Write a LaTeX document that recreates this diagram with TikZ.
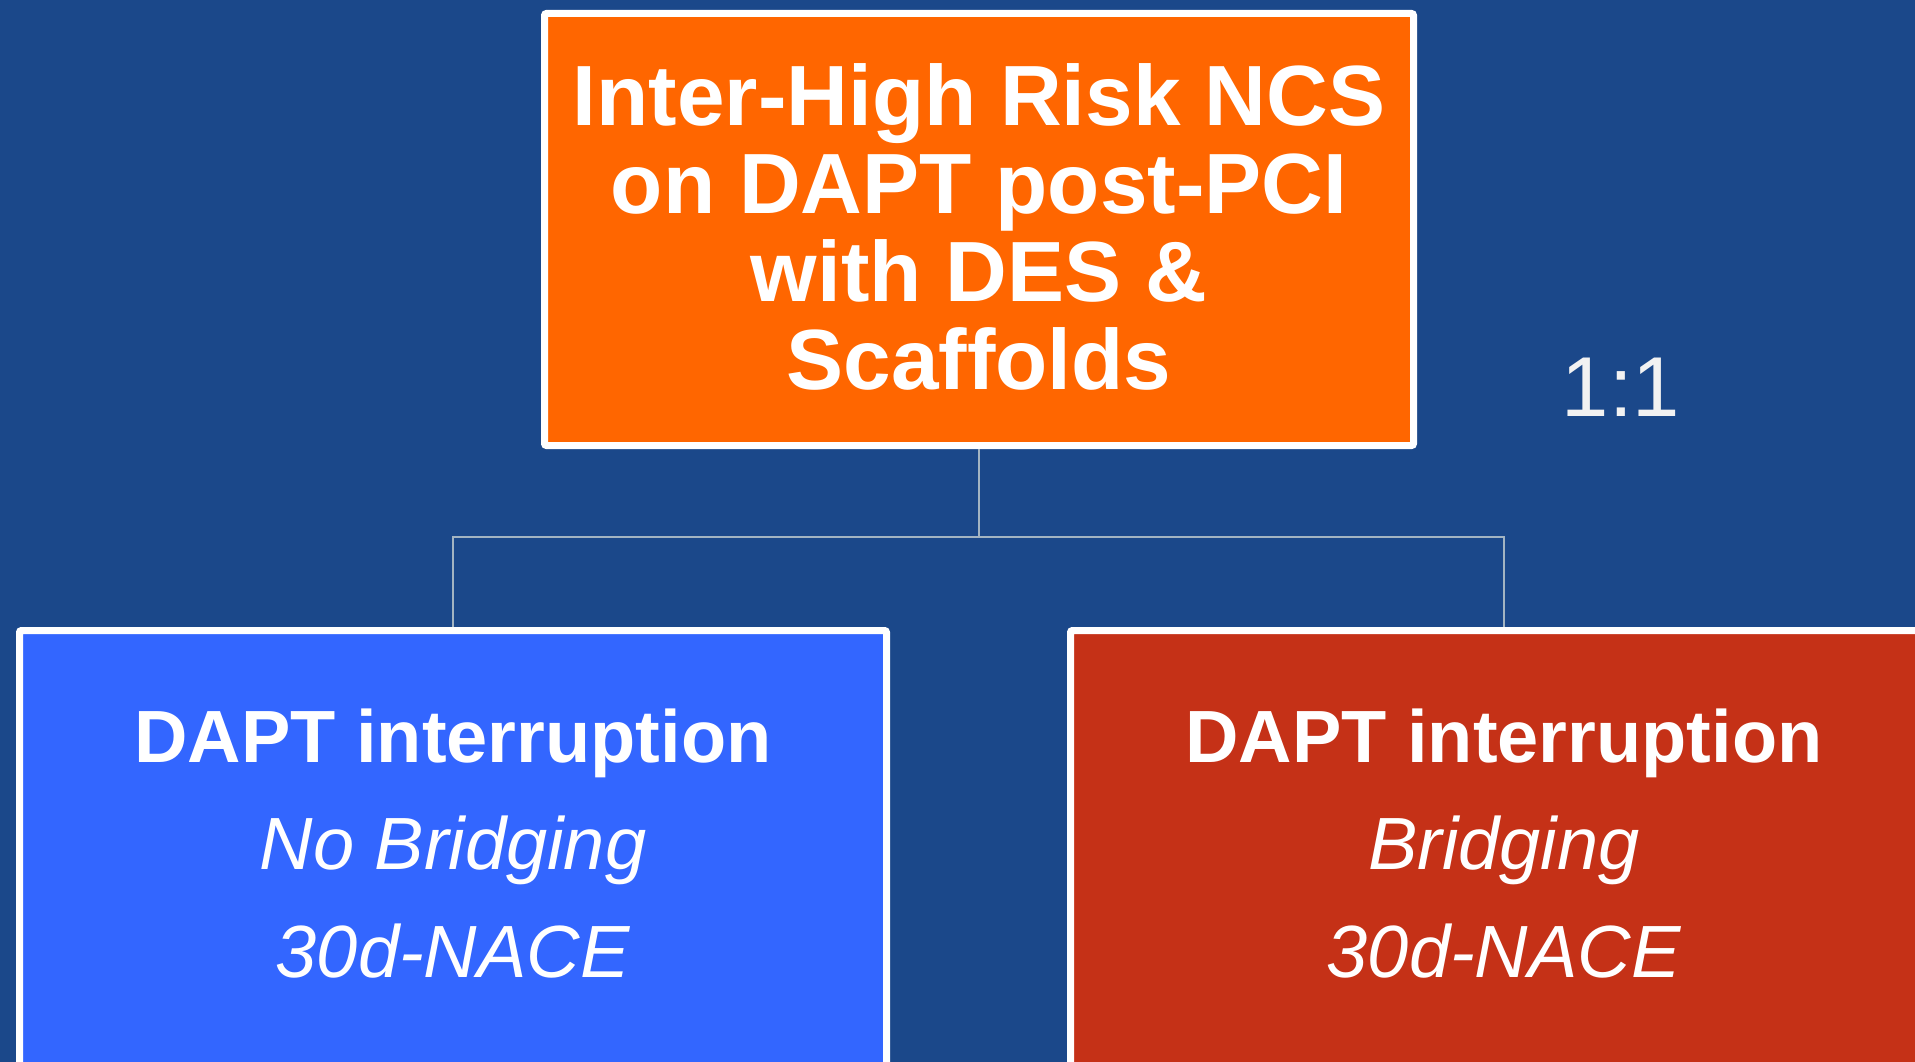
\documentclass[tikz,border=0pt]{standalone}
\usepackage{fontspec}
\setmainfont{Liberation Sans}
\definecolor{bgC}{HTML}{1B488A}
\definecolor{orangeC}{HTML}{FF6600}
\definecolor{blueC}{HTML}{3366FF}
\definecolor{redC}{HTML}{C53117}
\definecolor{connC}{HTML}{A3B4C2}
\definecolor{ratioC}{HTML}{F2F2F2}
\tikzset{
  box/.style={draw=white, line width=7pt, rounded corners=2pt, inner sep=0pt},
  toptext/.style={text=white, align=center, inner sep=0pt, font=\fontsize{85.5}{88}\selectfont\bfseries},
  armtext/.style={text=white, align=center, inner sep=0pt, font=\fontsize{74}{107.5}\selectfont},
  conn/.style={draw=connC, line width=1.8pt},
}
\begin{document}
\begin{tikzpicture}[x=1pt,y=-1pt]
\fill[bgC] (0,0) rectangle (1915,1062);
\useasboundingbox (0,0) rectangle (1915,1062);
\clip (0,0) rectangle (1915,1062);
\node[box, fill=orangeC, minimum width=869pt, minimum height=432pt] (top) at (979,229.5) {};
\node[box, fill=blueC, minimum width=867pt, minimum height=466pt] (left) at (453,863.5) {};
\node[box, fill=redC, minimum width=867pt, minimum height=466pt] (right) at (1504,863.5) {};
\coordinate (jn) at (979,537);
\draw[conn] (top.south) -- (jn);
\draw[conn] (left.north) |- (jn) -| (right.north);
\node[toptext, anchor=base] (toplabel) at (979,389) {Inter-High Risk NCS\\on DAPT post-PCI\\with DES \&\\Scaffolds};
\node[armtext, anchor=base] (leftlabel) at (453,977) {\textbf{DAPT interruption}\\\textit{No Bridging}\\\textit{30d-NACE}};
\node[armtext, anchor=base] (rightlabel) at (1504,977) {\textbf{DAPT interruption}\\\textit{Bridging}\\\textit{30d-NACE}};
\node[text=ratioC, inner sep=0pt, anchor=base, font=\fontsize{85}{90}\selectfont] (ratio) at (1621,416) {1:1};
\end{tikzpicture}
\end{document}
